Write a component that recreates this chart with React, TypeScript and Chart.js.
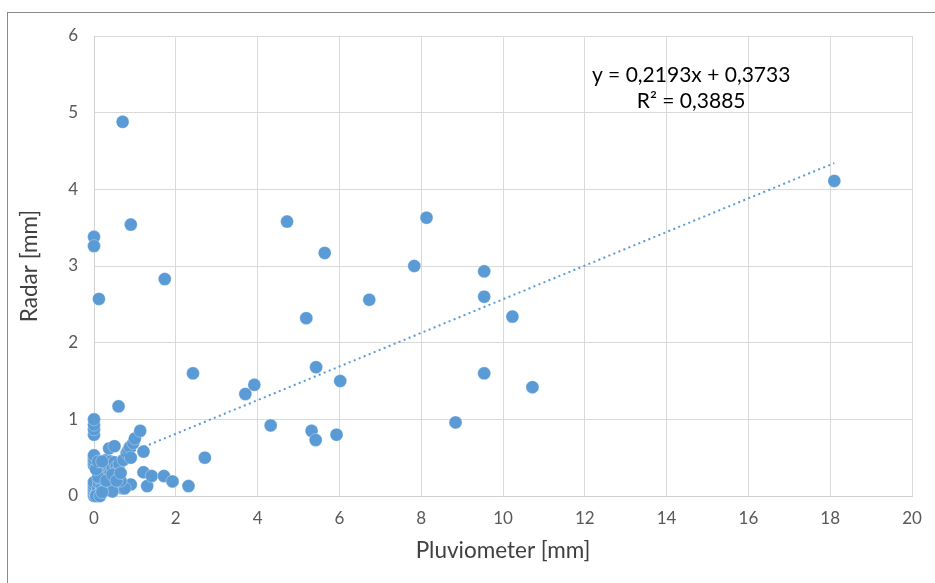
import React, { useEffect, useRef } from "react";
import { Chart, registerables } from "chart.js";

Chart.register(...registerables);

// Pluviometer [mm] values (x) and Radar [mm] values (y)
const pluvioValues: number[] = [
  0, 0, 0, 0, 0, 0, 0, 0, 0, 0, 0, 0, 0, 0,
  0.05, 0.08, 0.1, 0.1, 0.12, 0.15, 0.15, 0.18, 0.2, 0.2, 0.22, 0.25, 0.25, 0.28,
  0.3, 0.3, 0.32, 0.35, 0.35, 0.37, 0.4, 0.4, 0.42, 0.45, 0.48, 0.5, 0.5, 0.52,
  0.55, 0.58, 0.6, 0.6, 0.62, 0.7, 0.72, 0.8, 0.84, 0.88, 0.96, 1.0, 1.13, 1.21,
  0.9, 1.21, 1.3, 1.41, 1.71, 1.92, 2.31, 2.71, 0.6, 0.9, 0.75, 0.45, 0.65,
  0.05, 0.15, 0.2, 0.1, 0.05, 0.3, 0.45, 0.55, 0.65, 0.1, 0.2,
  0.7, 0.9, 0.12, 0.0, 0.0, 1.73,
  2.42, 3.7, 3.92, 4.32, 4.72, 5.19, 5.32, 5.42, 5.43, 5.64, 5.93, 6.02, 6.73,
  7.83, 8.13, 8.84, 9.54, 9.54, 9.54, 10.23, 10.72, 18.1,
];
const radarValues: number[] = [
  0, 0.03, 0.06, 0.1, 0.14, 0.18, 0.4, 0.44, 0.48, 0.53, 0.8, 0.87, 0.93, 1.0,
  0.02, 0.05, 0.0, 0.1, 0.17, 0.22, 0.04, 0.3, 0.12, 0.28, 0.36, 0.2, 0.42, 0.08,
  0.33, 0.47, 0.25, 0.15, 0.4, 0.62, 0.3, 0.45, 0.22, 0.37, 0.13, 0.65, 0.44, 0.3,
  0.38, 0.26, 0.34, 0.12, 0.42, 0.1, 0.47, 0.56, 0.6, 0.64, 0.69, 0.75, 0.85, 0.58,
  0.15, 0.31, 0.13, 0.26, 0.26, 0.19, 0.13, 0.5, 1.17, 0.5, 0.1, 0.06, 0.2,
  0.0, 0.0, 0.05, 0.25, 0.35, 0.2, 0.28, 0.2, 0.3, 0.45, 0.45,
  4.88, 3.54, 2.57, 3.38, 3.26, 2.83,
  1.6, 1.33, 1.45, 0.92, 3.58, 2.32, 0.85, 0.73, 1.68, 3.17, 0.8, 1.5, 2.56,
  3.0, 3.63, 0.96, 2.93, 2.6, 1.6, 2.34, 1.42, 4.11,
];

// Linear trendline coefficients (from the chart label)
const trendSlope = 0.2193;
const trendIntercept = 0.3733;
const trendRange: number[] = [0, 18.1];
const trendLabels: string[] = ["y = 0,2193x + 0,3733", "R² = 0,3885"];

const xTicks = { min: 0, max: 20, step: 2 };
const yTicks = { min: 0, max: 6, step: 1 };

const FONT = "Lato, 'Open Sans', sans-serif";

export default function App() {
  const ref = useRef<HTMLCanvasElement | null>(null);

  useEffect(() => {
    if (!ref.current) return;
    const points = pluvioValues.map((x, i) => ({ x, y: radarValues[i] }));
    const trend = trendRange.map((x) => ({ x, y: trendSlope * x + trendIntercept }));

    const labelPlugin = {
      id: "trendLabel",
      afterDraw(chart: any) {
        const ctx = chart.ctx;
        const xs = chart.scales.x;
        const ys = chart.scales.y;
        ctx.save();
        ctx.fillStyle = "#000000";
        ctx.font = `21px ${FONT}`;
        ctx.textAlign = "center";
        ctx.textBaseline = "middle";
        const cx = xs.getPixelForValue(14.6);
        const cy = ys.getPixelForValue(5.49);
        ctx.fillText(trendLabels[0], cx, cy);
        ctx.fillText(trendLabels[1], cx, cy + 26);
        ctx.restore();
      },
    };

    const chart = new Chart(ref.current, {
      type: "scatter",
      data: {
        datasets: [
          {
            type: "line",
            data: trend,
            borderColor: "#5B9BD5",
            borderWidth: 2,
            borderDash: [2, 3.4],
            pointRadius: 0,
            fill: false,
            order: 0,
          } as any,
          {
            data: points,
            backgroundColor: "#5B9BD5",
            borderColor: "rgba(255,255,255,0.3)",
            borderWidth: 1,
            pointRadius: 6.5,
            clip: false,
            order: 1,
          } as any,
        ],
      },
      options: {
        responsive: false,
        animation: false,
        layout: { padding: { left: 0, top: 36, right: 23, bottom: 0 } },
        plugins: {
          legend: { display: false },
          tooltip: { enabled: false },
        },
        scales: {
          x: {
            type: "linear",
            min: xTicks.min,
            max: xTicks.max,
            ticks: {
              stepSize: xTicks.step,
              color: "#595959",
              font: { family: FONT, size: 17 },
              padding: 12,
            },
            grid: { color: "#d9d9d9", drawTicks: false, lineWidth: 1 },
            border: { color: "#d0d0d0" },
            title: {
              display: true,
              text: "Pluviometer [mm]",
              color: "#404040",
              font: { family: FONT, size: 22.5 },
              padding: { top: 0, bottom: 19 },
            },
            afterFit: (s: any) => {
              s.height = 87;
            },
          },
          y: {
            type: "linear",
            min: yTicks.min,
            max: yTicks.max,
            ticks: {
              stepSize: yTicks.step,
              color: "#595959",
              font: { family: FONT, size: 17 },
              padding: 16,
            },
            grid: { color: "#d9d9d9", drawTicks: false, lineWidth: 1 },
            border: { color: "#d0d0d0" },
            title: {
              display: true,
              text: "Radar [mm]",
              color: "#404040",
              font: { family: FONT, size: 22.5 },
              padding: { top: 16, bottom: 0 },
            },
            afterFit: (s: any) => {
              s.width = 94;
            },
          },
        },
      },
      plugins: [labelPlugin],
    });
    return () => chart.destroy();
  }, []);

  return (
    <div
      style={{
        position: "fixed",
        left: 0,
        top: 0,
        width: 935,
        height: 583,
        background: "#ffffff",
        overflow: "hidden",
      }}
    >
      <canvas ref={ref} width={935} height={583} style={{ position: "absolute", left: 0, top: 0 }} />
      <div
        style={{
          position: "absolute",
          left: 7,
          top: 12,
          width: 1200,
          height: 1200,
          border: "1.5px solid #8a8a8a",
          pointerEvents: "none",
        }}
      />
    </div>
  );
}
